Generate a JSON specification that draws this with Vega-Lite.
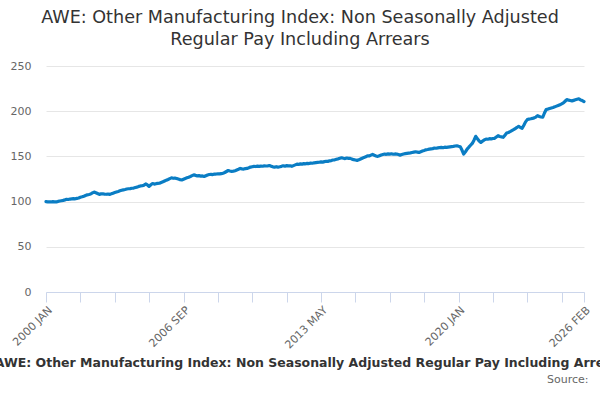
{
  "$schema": "https://vega.github.io/schema/vega-lite/v6.json",
  "description": "AWE: Other Manufacturing Index, non seasonally adjusted regular pay including arrears, monthly 2000 JAN to 2026 FEB.",
  "autosize": {"type": "none"},
  "padding": {"left": 46, "top": 66, "right": 16, "bottom": 108},
  "width": 538,
  "height": 226,
  "background": "white",
  "config": {
    "view": {"stroke": null},
    "font": "DejaVu Sans"
  },
  "title": {
    "text": ["AWE: Other Manufacturing Index: Non Seasonally Adjusted", "Regular Pay Including Arrears"],
    "frame": "group",
    "anchor": "middle",
    "dx": -15,
    "offset": 11,
    "font": "DejaVu Sans",
    "fontSize": 17.6,
    "fontWeight": "normal",
    "color": "#333333",
    "lineHeight": 22
  },
  "data": {
    "values": [
      {"month": "2000 JAN", "value": 100.0}, {"month": "2000 FEB", "value": 99.7}, {"month": "2000 MAR", "value": 99.8}, {"month": "2000 APR", "value": 99.6},
      {"month": "2000 MAY", "value": 99.9}, {"month": "2000 JUN", "value": 99.8}, {"month": "2000 JUL", "value": 99.6}, {"month": "2000 AUG", "value": 100.2},
      {"month": "2000 SEP", "value": 100.6}, {"month": "2000 OCT", "value": 101.0}, {"month": "2000 NOV", "value": 101.4}, {"month": "2000 DEC", "value": 101.9},
      {"month": "2001 JAN", "value": 102.5}, {"month": "2001 FEB", "value": 102.3}, {"month": "2001 MAR", "value": 102.8}, {"month": "2001 APR", "value": 103.0},
      {"month": "2001 MAY", "value": 103.2}, {"month": "2001 JUN", "value": 103.1}, {"month": "2001 JUL", "value": 103.6}, {"month": "2001 AUG", "value": 104.0},
      {"month": "2001 SEP", "value": 104.8}, {"month": "2001 OCT", "value": 105.3}, {"month": "2001 NOV", "value": 106.0}, {"month": "2001 DEC", "value": 106.8},
      {"month": "2002 JAN", "value": 107.5}, {"month": "2002 FEB", "value": 107.9}, {"month": "2002 MAR", "value": 108.4}, {"month": "2002 APR", "value": 109.6},
      {"month": "2002 MAY", "value": 110.5}, {"month": "2002 JUN", "value": 109.8}, {"month": "2002 JUL", "value": 108.9}, {"month": "2002 AUG", "value": 108.0},
      {"month": "2002 SEP", "value": 108.5}, {"month": "2002 OCT", "value": 108.7}, {"month": "2002 NOV", "value": 108.3}, {"month": "2002 DEC", "value": 108.1},
      {"month": "2003 JAN", "value": 108.4}, {"month": "2003 FEB", "value": 108.0}, {"month": "2003 MAR", "value": 108.6}, {"month": "2003 APR", "value": 109.3},
      {"month": "2003 MAY", "value": 110.0}, {"month": "2003 JUN", "value": 110.6}, {"month": "2003 JUL", "value": 111.2}, {"month": "2003 AUG", "value": 111.9},
      {"month": "2003 SEP", "value": 112.5}, {"month": "2003 OCT", "value": 113.0}, {"month": "2003 NOV", "value": 113.4}, {"month": "2003 DEC", "value": 113.9},
      {"month": "2004 JAN", "value": 114.2}, {"month": "2004 FEB", "value": 114.4}, {"month": "2004 MAR", "value": 114.8}, {"month": "2004 APR", "value": 115.0},
      {"month": "2004 MAY", "value": 115.6}, {"month": "2004 JUN", "value": 116.0}, {"month": "2004 JUL", "value": 116.8}, {"month": "2004 AUG", "value": 117.3},
      {"month": "2004 SEP", "value": 117.5}, {"month": "2004 OCT", "value": 118.2}, {"month": "2004 NOV", "value": 119.5}, {"month": "2004 DEC", "value": 118.4},
      {"month": "2005 JAN", "value": 116.8}, {"month": "2005 FEB", "value": 118.6}, {"month": "2005 MAR", "value": 120.0}, {"month": "2005 APR", "value": 119.4},
      {"month": "2005 MAY", "value": 119.8}, {"month": "2005 JUN", "value": 120.1}, {"month": "2005 JUL", "value": 120.3}, {"month": "2005 AUG", "value": 121.1},
      {"month": "2005 SEP", "value": 121.9}, {"month": "2005 OCT", "value": 122.8}, {"month": "2005 NOV", "value": 123.7}, {"month": "2005 DEC", "value": 124.5},
      {"month": "2006 JAN", "value": 125.4}, {"month": "2006 FEB", "value": 126.3}, {"month": "2006 MAR", "value": 125.8}, {"month": "2006 APR", "value": 126.0},
      {"month": "2006 MAY", "value": 125.6}, {"month": "2006 JUN", "value": 124.9}, {"month": "2006 JUL", "value": 124.3}, {"month": "2006 AUG", "value": 124.0},
      {"month": "2006 SEP", "value": 124.8}, {"month": "2006 OCT", "value": 125.6}, {"month": "2006 NOV", "value": 126.3}, {"month": "2006 DEC", "value": 127.0},
      {"month": "2007 JAN", "value": 127.8}, {"month": "2007 FEB", "value": 128.7}, {"month": "2007 MAR", "value": 129.6}, {"month": "2007 APR", "value": 129.0},
      {"month": "2007 MAY", "value": 128.5}, {"month": "2007 JUN", "value": 128.7}, {"month": "2007 JUL", "value": 128.2}, {"month": "2007 AUG", "value": 128.4},
      {"month": "2007 SEP", "value": 127.8}, {"month": "2007 OCT", "value": 128.6}, {"month": "2007 NOV", "value": 129.4}, {"month": "2007 DEC", "value": 130.0},
      {"month": "2008 JAN", "value": 130.2}, {"month": "2008 FEB", "value": 129.9}, {"month": "2008 MAR", "value": 130.4}, {"month": "2008 APR", "value": 130.5},
      {"month": "2008 MAY", "value": 130.7}, {"month": "2008 JUN", "value": 130.6}, {"month": "2008 JUL", "value": 131.0}, {"month": "2008 AUG", "value": 131.4},
      {"month": "2008 SEP", "value": 132.2}, {"month": "2008 OCT", "value": 133.3}, {"month": "2008 NOV", "value": 134.4}, {"month": "2008 DEC", "value": 133.9},
      {"month": "2009 JAN", "value": 133.5}, {"month": "2009 FEB", "value": 133.7}, {"month": "2009 MAR", "value": 134.2}, {"month": "2009 APR", "value": 135.0},
      {"month": "2009 MAY", "value": 135.8}, {"month": "2009 JUN", "value": 136.7}, {"month": "2009 JUL", "value": 136.2}, {"month": "2009 AUG", "value": 136.0},
      {"month": "2009 SEP", "value": 136.5}, {"month": "2009 OCT", "value": 136.7}, {"month": "2009 NOV", "value": 137.4}, {"month": "2009 DEC", "value": 138.2},
      {"month": "2010 JAN", "value": 138.6}, {"month": "2010 FEB", "value": 139.0}, {"month": "2010 MAR", "value": 138.8}, {"month": "2010 APR", "value": 139.2},
      {"month": "2010 MAY", "value": 139.0}, {"month": "2010 JUN", "value": 139.3}, {"month": "2010 JUL", "value": 139.1}, {"month": "2010 AUG", "value": 139.5},
      {"month": "2010 SEP", "value": 139.4}, {"month": "2010 OCT", "value": 139.6}, {"month": "2010 NOV", "value": 139.9}, {"month": "2010 DEC", "value": 139.2},
      {"month": "2011 JAN", "value": 138.5}, {"month": "2011 FEB", "value": 138.2}, {"month": "2011 MAR", "value": 138.6}, {"month": "2011 APR", "value": 138.1},
      {"month": "2011 MAY", "value": 138.5}, {"month": "2011 JUN", "value": 139.0}, {"month": "2011 JUL", "value": 139.6}, {"month": "2011 AUG", "value": 139.2},
      {"month": "2011 SEP", "value": 139.8}, {"month": "2011 OCT", "value": 139.5}, {"month": "2011 NOV", "value": 139.6}, {"month": "2011 DEC", "value": 139.0},
      {"month": "2012 JAN", "value": 139.8}, {"month": "2012 FEB", "value": 140.6}, {"month": "2012 MAR", "value": 141.4}, {"month": "2012 APR", "value": 141.1},
      {"month": "2012 MAY", "value": 141.8}, {"month": "2012 JUN", "value": 141.5}, {"month": "2012 JUL", "value": 142.0}, {"month": "2012 AUG", "value": 141.8},
      {"month": "2012 SEP", "value": 142.3}, {"month": "2012 OCT", "value": 142.1}, {"month": "2012 NOV", "value": 142.6}, {"month": "2012 DEC", "value": 142.4},
      {"month": "2013 JAN", "value": 142.9}, {"month": "2013 FEB", "value": 143.1}, {"month": "2013 MAR", "value": 143.3}, {"month": "2013 APR", "value": 143.5},
      {"month": "2013 MAY", "value": 143.9}, {"month": "2013 JUN", "value": 143.7}, {"month": "2013 JUL", "value": 144.2}, {"month": "2013 AUG", "value": 144.6},
      {"month": "2013 SEP", "value": 144.5}, {"month": "2013 OCT", "value": 145.1}, {"month": "2013 NOV", "value": 145.4}, {"month": "2013 DEC", "value": 146.0},
      {"month": "2014 JAN", "value": 146.2}, {"month": "2014 FEB", "value": 146.8}, {"month": "2014 MAR", "value": 147.3}, {"month": "2014 APR", "value": 147.9},
      {"month": "2014 MAY", "value": 148.5}, {"month": "2014 JUN", "value": 148.0}, {"month": "2014 JUL", "value": 147.6}, {"month": "2014 AUG", "value": 148.2},
      {"month": "2014 SEP", "value": 147.9}, {"month": "2014 OCT", "value": 147.8}, {"month": "2014 NOV", "value": 147.0}, {"month": "2014 DEC", "value": 146.4},
      {"month": "2015 JAN", "value": 146.0}, {"month": "2015 FEB", "value": 145.6}, {"month": "2015 MAR", "value": 146.2}, {"month": "2015 APR", "value": 147.1},
      {"month": "2015 MAY", "value": 148.0}, {"month": "2015 JUN", "value": 148.9}, {"month": "2015 JUL", "value": 149.6}, {"month": "2015 AUG", "value": 150.7},
      {"month": "2015 SEP", "value": 150.5}, {"month": "2015 OCT", "value": 151.4}, {"month": "2015 NOV", "value": 152.2}, {"month": "2015 DEC", "value": 151.3},
      {"month": "2016 JAN", "value": 150.5}, {"month": "2016 FEB", "value": 150.0}, {"month": "2016 MAR", "value": 150.8}, {"month": "2016 APR", "value": 151.6},
      {"month": "2016 MAY", "value": 152.1}, {"month": "2016 JUN", "value": 152.6}, {"month": "2016 JUL", "value": 152.3}, {"month": "2016 AUG", "value": 152.8},
      {"month": "2016 SEP", "value": 152.5}, {"month": "2016 OCT", "value": 152.9}, {"month": "2016 NOV", "value": 152.4}, {"month": "2016 DEC", "value": 152.7},
      {"month": "2017 JAN", "value": 152.6}, {"month": "2017 FEB", "value": 152.0}, {"month": "2017 MAR", "value": 151.4}, {"month": "2017 APR", "value": 152.0},
      {"month": "2017 MAY", "value": 152.6}, {"month": "2017 JUN", "value": 153.0}, {"month": "2017 JUL", "value": 153.3}, {"month": "2017 AUG", "value": 153.6},
      {"month": "2017 SEP", "value": 153.9}, {"month": "2017 OCT", "value": 154.3}, {"month": "2017 NOV", "value": 154.7}, {"month": "2017 DEC", "value": 155.1},
      {"month": "2018 JAN", "value": 154.8}, {"month": "2018 FEB", "value": 154.4}, {"month": "2018 MAR", "value": 155.2}, {"month": "2018 APR", "value": 156.0},
      {"month": "2018 MAY", "value": 156.6}, {"month": "2018 JUN", "value": 157.3}, {"month": "2018 JUL", "value": 157.6}, {"month": "2018 AUG", "value": 158.0},
      {"month": "2018 SEP", "value": 158.3}, {"month": "2018 OCT", "value": 158.6}, {"month": "2018 NOV", "value": 159.2}, {"month": "2018 DEC", "value": 159.0},
      {"month": "2019 JAN", "value": 159.4}, {"month": "2019 FEB", "value": 159.8}, {"month": "2019 MAR", "value": 160.0}, {"month": "2019 APR", "value": 159.6},
      {"month": "2019 MAY", "value": 160.2}, {"month": "2019 JUN", "value": 160.0}, {"month": "2019 JUL", "value": 160.3}, {"month": "2019 AUG", "value": 160.6},
      {"month": "2019 SEP", "value": 160.9}, {"month": "2019 OCT", "value": 161.1}, {"month": "2019 NOV", "value": 161.5}, {"month": "2019 DEC", "value": 161.8},
      {"month": "2020 JAN", "value": 161.2}, {"month": "2020 FEB", "value": 160.7}, {"month": "2020 MAR", "value": 157.0}, {"month": "2020 APR", "value": 152.6},
      {"month": "2020 MAY", "value": 155.0}, {"month": "2020 JUN", "value": 158.0}, {"month": "2020 JUL", "value": 160.2}, {"month": "2020 AUG", "value": 162.3},
      {"month": "2020 SEP", "value": 164.4}, {"month": "2020 OCT", "value": 168.0}, {"month": "2020 NOV", "value": 172.2}, {"month": "2020 DEC", "value": 169.5},
      {"month": "2021 JAN", "value": 167.0}, {"month": "2021 FEB", "value": 165.5}, {"month": "2021 MAR", "value": 167.0}, {"month": "2021 APR", "value": 168.2},
      {"month": "2021 MAY", "value": 169.2}, {"month": "2021 JUN", "value": 169.0}, {"month": "2021 JUL", "value": 169.6}, {"month": "2021 AUG", "value": 169.3},
      {"month": "2021 SEP", "value": 169.8}, {"month": "2021 OCT", "value": 170.0}, {"month": "2021 NOV", "value": 171.5}, {"month": "2021 DEC", "value": 172.9},
      {"month": "2022 JAN", "value": 172.0}, {"month": "2022 FEB", "value": 171.6}, {"month": "2022 MAR", "value": 171.1}, {"month": "2022 APR", "value": 173.5},
      {"month": "2022 MAY", "value": 175.9}, {"month": "2022 JUN", "value": 176.5}, {"month": "2022 JUL", "value": 177.4}, {"month": "2022 AUG", "value": 178.5},
      {"month": "2022 SEP", "value": 179.6}, {"month": "2022 OCT", "value": 180.8}, {"month": "2022 NOV", "value": 182.0}, {"month": "2022 DEC", "value": 183.3},
      {"month": "2023 JAN", "value": 182.0}, {"month": "2023 FEB", "value": 181.1}, {"month": "2023 MAR", "value": 184.5}, {"month": "2023 APR", "value": 188.2},
      {"month": "2023 MAY", "value": 190.7}, {"month": "2023 JUN", "value": 191.3}, {"month": "2023 JUL", "value": 191.6}, {"month": "2023 AUG", "value": 192.0},
      {"month": "2023 SEP", "value": 192.6}, {"month": "2023 OCT", "value": 193.5}, {"month": "2023 NOV", "value": 195.1}, {"month": "2023 DEC", "value": 194.2},
      {"month": "2024 JAN", "value": 193.6}, {"month": "2024 FEB", "value": 193.3}, {"month": "2024 MAR", "value": 198.0}, {"month": "2024 APR", "value": 201.8},
      {"month": "2024 MAY", "value": 202.3}, {"month": "2024 JUN", "value": 203.0}, {"month": "2024 JUL", "value": 203.6}, {"month": "2024 AUG", "value": 204.1},
      {"month": "2024 SEP", "value": 204.8}, {"month": "2024 OCT", "value": 205.6}, {"month": "2024 NOV", "value": 206.4}, {"month": "2024 DEC", "value": 207.2},
      {"month": "2025 JAN", "value": 208.1}, {"month": "2025 FEB", "value": 209.2}, {"month": "2025 MAR", "value": 211.0}, {"month": "2025 APR", "value": 212.9},
      {"month": "2025 MAY", "value": 212.2}, {"month": "2025 JUN", "value": 211.8}, {"month": "2025 JUL", "value": 211.4}, {"month": "2025 AUG", "value": 212.0},
      {"month": "2025 SEP", "value": 212.6}, {"month": "2025 OCT", "value": 213.2}, {"month": "2025 NOV", "value": 213.7}, {"month": "2025 DEC", "value": 212.5},
      {"month": "2026 JAN", "value": 211.8}, {"month": "2026 FEB", "value": 210.7}
    ]
  },
  "mark": {"type": "line", "color": "#0a7dc4", "strokeWidth": 3.2, "strokeJoin": "round", "strokeCap": "round"},
  "encoding": {
    "x": {
      "field": "month",
      "type": "ordinal",
      "sort": null,
      "scale": {"type": "point", "padding": 0},
      "axis": {
        "values": ["2000 JAN", "2001 SEP", "2003 MAY", "2005 JAN", "2006 SEP", "2008 MAY", "2010 JAN", "2011 SEP", "2013 MAY", "2015 JAN", "2016 SEP", "2018 MAY", "2020 JAN", "2021 SEP", "2023 MAY", "2025 JAN", "2026 FEB"],
        "labelExpr": "indexof(['2000 JAN', '2006 SEP', '2013 MAY', '2020 JAN', '2026 FEB'], datum.value) >= 0 ? datum.value : ''",
        "labelAngle": -45,
        "labelAlign": "right",
        "labelBaseline": "top",
        "labelFont": "DejaVu Sans",
        "labelFontSize": 11,
        "labelColor": "#666666",
        "labelPadding": 2,
        "labelOverlap": false,
        "labelBound": false,
        "labelFlush": false,
        "tickSize": 10,
        "tickColor": "#ccd6eb",
        "domainColor": "#ccd6eb",
        "grid": false,
        "title": "AWE: Other Manufacturing Index: Non Seasonally Adjusted Regular Pay Including Arrears",
        "titleFont": "DejaVu Sans",
        "titleFontSize": 12.5,
        "titleFontWeight": "bold",
        "titleColor": "#333333",
        "titleX": 264,
        "titleY": 74,
        "titleAlign": "center",
        "titleBaseline": "alphabetic"
      }
    },
    "y": {
      "field": "value",
      "type": "quantitative",
      "scale": {"domain": [0, 250], "nice": false, "zero": true},
      "axis": {
        "values": [0, 50, 100, 150, 200, 250],
        "domain": false,
        "ticks": false,
        "labelFont": "DejaVu Sans",
        "labelFontSize": 11,
        "labelColor": "#666666",
        "labelPadding": 15,
        "gridColor": "#e6e6e6",
        "title": "Source:",
        "titleAngle": 0,
        "titleFont": "DejaVu Sans",
        "titleFontSize": 11,
        "titleFontWeight": "normal",
        "titleColor": "#666666",
        "titleX": 542,
        "titleY": 316,
        "titleAlign": "right",
        "titleBaseline": "alphabetic"
      }
    }
  }
}
